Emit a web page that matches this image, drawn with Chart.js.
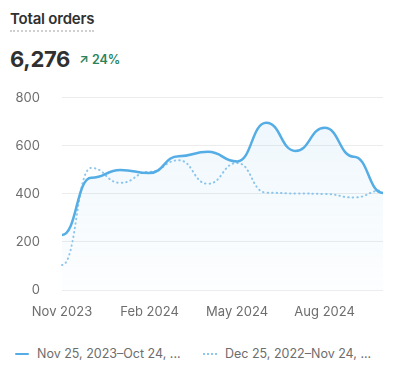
<!DOCTYPE html>
<html>
<head>
<meta charset="utf-8">
<script src="https://cdn.jsdelivr.net/npm/chart.js@4"></script>
<style>
  body { margin: 0; width: 400px; height: 381px; background: #fff; font-family: Inter, sans-serif; position: relative; overflow: hidden; }
  .title { position: absolute; left: 10px; top: 9px; font-size: 15px; font-weight: 600; color: #303030; padding-bottom: 2px; border-bottom: 2px dotted #cfcfcf; letter-spacing: -0.2px; }
  .total { position: absolute; left: 10px; top: 46px; font-size: 22px; font-weight: 700; color: #303030; letter-spacing: -0.3px; }
  .delta { position: absolute; left: 79px; top: 52px; font-size: 12.5px; font-weight: 600; color: #29845a; }
  .wrap { position: absolute; left: 0; top: 68px; width: 400px; height: 255px; }
  .legend { position: absolute; top: 346px; left: 0; width: 400px; font-size: 12.5px; color: #6d6d6d; }
  .item { position: absolute; top: 0; white-space: nowrap; }
  .swatch { position: absolute; top: 7px; width: 14px; height: 0; }
</style>
</head>
<body>
<div class="title">Total orders</div>
<div class="total">6,276</div>
<div class="delta">&#8599; 24%</div>
<div class="wrap"><canvas id="chart"></canvas></div>
<div class="legend">
  <div class="swatch" style="left:15px;border-top:2.5px solid #55ade5;border-radius:2px"></div>
  <div class="item" style="left:37px" id="leg1"></div>
  <div class="swatch" style="left:203px;border-top:2px dotted #90c7ec"></div>
  <div class="item" style="left:225px" id="leg2"></div>
</div>
<script>
// monthly buckets shown on the x axis
const months = ['Nov 2023', 'Dec 2023', 'Jan 2024', 'Feb 2024', 'Mar 2024', 'Apr 2024',
                'May 2024', 'Jun 2024', 'Jul 2024', 'Aug 2024', 'Sep 2024', 'Oct 2024'];
const currentOrders = [229, 467, 500, 487, 557, 575, 535, 696, 579, 675, 555, 404];
const previousOrders = [104, 508, 446, 492, 540, 442, 529, 405, 402, 400, 385, 415];
const seriesNames = ['Nov 25, 2023–Oct 24, ...', 'Dec 25, 2022–Nov 24, ...'];
const yTicks = [0, 200, 400, 600, 800];

document.getElementById('leg1').textContent = seriesNames[0];
document.getElementById('leg2').textContent = seriesNames[1];

const ctx = document.getElementById('chart').getContext('2d');

function areaFill(context) {
    const area = context.chart.chartArea;
    if (!area) return 'rgba(85,173,229,0.06)';
    const g = context.chart.ctx.createLinearGradient(0, area.top, 0, area.bottom);
    g.addColorStop(0, 'rgba(85,173,229,0.10)');
    g.addColorStop(1, 'rgba(85,173,229,0.015)');
    return g;
}

// flat tangents at every point (like d3 curveBumpX)
const bumpCurve = {
    id: 'bumpCurve',
    beforeDatasetsDraw(chart) {
        chart.getSortedVisibleDatasetMetas().forEach(meta => {
            meta.dataset.updateControlPoints(chart.chartArea, 'x');
            const pts = meta.data;
            pts.forEach((p, i) => {
                const prev = pts[i - 1], next = pts[i + 1];
                p.cp1x = prev ? (prev.x + p.x) / 2 : p.x;
                p.cp1y = p.y;
                p.cp2x = next ? (p.x + next.x) / 2 : p.x;
                p.cp2y = p.y;
            });
        });
    }
};

new Chart(ctx, {
    type: 'line',
    data: {
        labels: months,
        datasets: [{
            label: seriesNames[0],
            data: currentOrders,
            borderColor: '#55ade5',
            borderWidth: 2.5,
            backgroundColor: areaFill,
            fill: 'origin',
            tension: 0.4,
            pointRadius: 0
        }, {
            label: seriesNames[1],
            data: previousOrders,
            borderColor: '#90c7ec',
            borderWidth: 2,
            borderDash: [0.5, 4],
            borderCapStyle: 'round',
            fill: false,
            tension: 0.4,
            pointRadius: 0
        }]
    },
    plugins: [bumpCurve],
    options: {
        responsive: true,
        maintainAspectRatio: false,
        animation: false,
        layout: { padding: { top: 10, right: 17, left: 0, bottom: 0 } },
        plugins: { legend: { display: false }, tooltip: { enabled: false } },
        scales: {
            y: {
                min: 0,
                max: 800,
                afterFit: function(scale) { scale.width = 62; },
                afterBuildTicks: function(scale) { scale.ticks = yTicks.map(v => ({ value: v })); },
                border: { display: false },
                grid: { color: '#ececec', drawTicks: false },
                ticks: {
                    padding: 22,
                    color: '#6d6d6d',
                    font: { family: 'Inter', size: 13 }
                }
            },
            x: {
                afterFit: function(scale) { scale.height = 33; },
                border: { display: false },
                grid: { display: false, drawTicks: false },
                ticks: {
                    autoSkip: false,
                    maxRotation: 0,
                    padding: 14,
                    color: '#6d6d6d',
                    font: { family: 'Inter', size: 13 },
                    callback: function(val, i) { return i % 3 === 0 ? months[i] : ''; }
                }
            }
        }
    }
});
</script>
</body>
</html>
